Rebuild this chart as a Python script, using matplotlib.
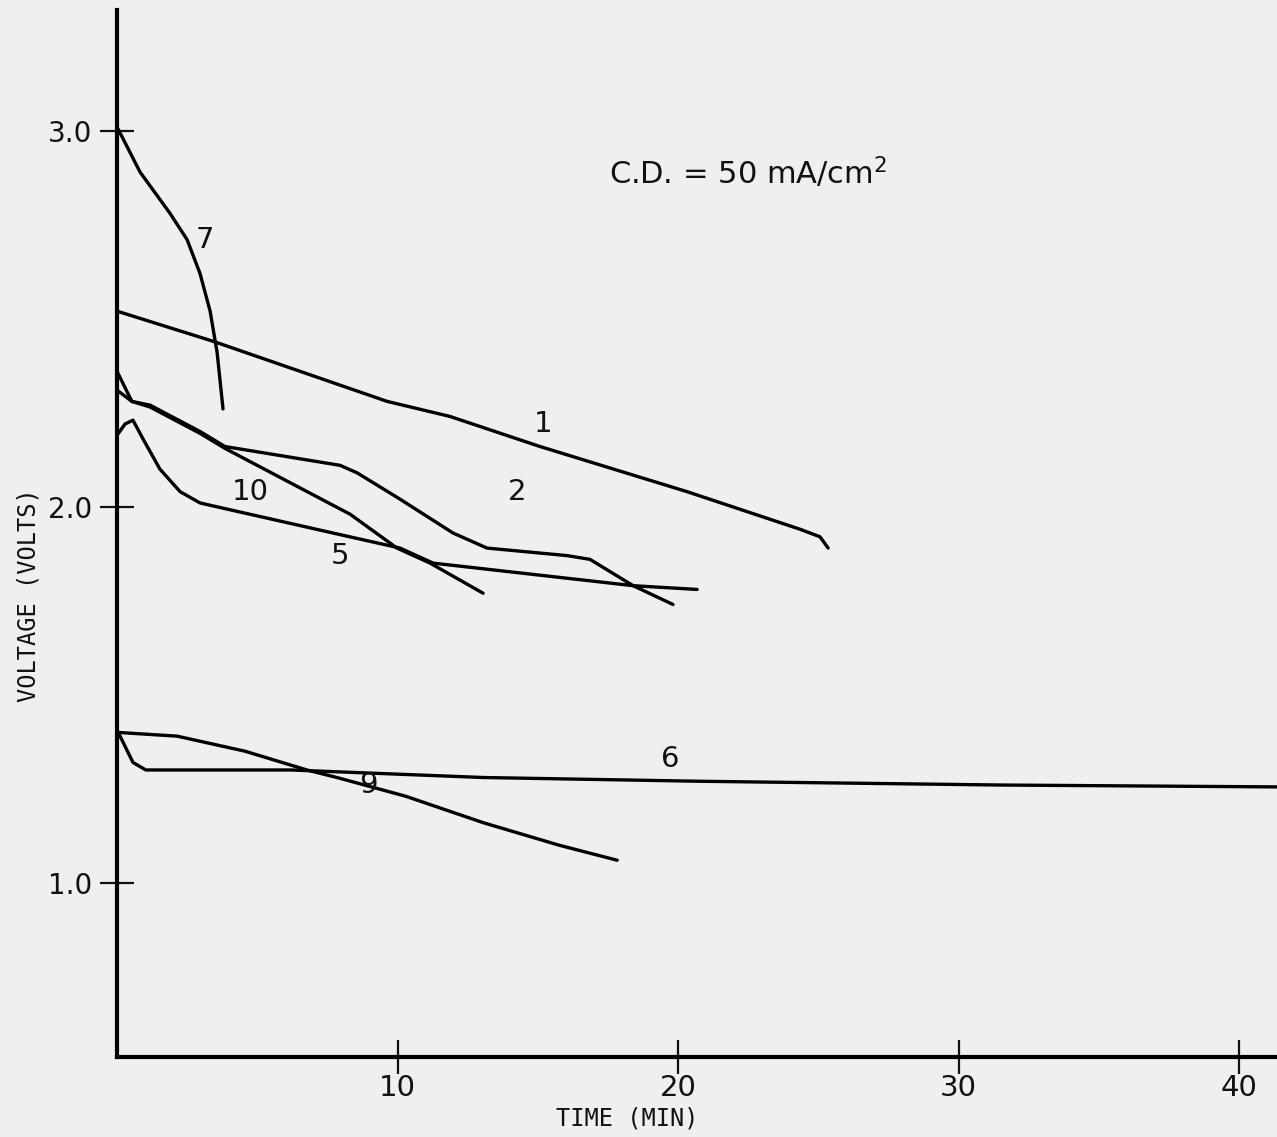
#!/usr/bin/env python3

import matplotlib
matplotlib.use("Agg")
import matplotlib.pyplot as plt

plt.rcParams["font.family"] = ["DejaVu Sans"]

# discharge curves at C.D. = 50 mA/cm2
t1 = [0, 3.42, 9.63, 11.87, 15.08, 20.32, 24.35, 25.06, 25.35]
v1 = [2.52, 2.44, 2.28, 2.24, 2.16, 2.04, 1.94, 1.92, 1.89]

t2 = [0, 0.53, 1.18, 2.96, 3.85, 7.95, 8.56, 10.09, 11.98, 13.19, 16.04, 16.86, 18.40, 19.82]
v2 = [2.36, 2.28, 2.27, 2.20, 2.16, 2.11, 2.09, 2.02, 1.93, 1.89, 1.87, 1.86, 1.79, 1.74]

t5 = [0, 0.29, 0.57, 0.93, 1.53, 2.25, 2.96, 4.14, 5.92, 7.70, 10.09, 11.27, 14.83, 18.40, 20.68]
v5 = [2.19, 2.22, 2.23, 2.18, 2.10, 2.04, 2.01, 1.99, 1.96, 1.93, 1.89, 1.85, 1.82, 1.79, 1.78]

t6 = [0, 0.11, 0.57, 1.03, 6.20, 13.05, 20.78, 31.5, 41.35]
v6 = [1.40, 1.39, 1.32, 1.30, 1.30, 1.28, 1.27, 1.26, 1.255]

t7 = [0, 0.82, 1.89, 2.50, 2.96, 3.32, 3.57, 3.78]
v7 = [3.01, 2.89, 2.78, 2.71, 2.62, 2.52, 2.41, 2.26]

t9 = [0, 2.14, 4.56, 6.77, 7.84, 10.30, 13.05, 15.76, 17.83]
v9 = [1.40, 1.39, 1.35, 1.30, 1.28, 1.23, 1.16, 1.10, 1.06]

t10 = [0, 0.53, 1.18, 2.96, 3.85, 6.27, 8.31, 9.98, 11.16, 13.05]
v10 = [2.31, 2.28, 2.265, 2.195, 2.155, 2.06, 1.98, 1.89, 1.85, 1.77]

curves = [(t1, v1), (t2, v2), (t5, v5), (t6, v6), (t7, v7), (t9, v9), (t10, v10)]

# curve numbers and where they sit
label_names = ["7", "1", "2", "10", "5", "6", "9"]
label_t = [3.14, 15.19, 14.26, 4.74, 7.95, 19.71, 8.95]
label_v = [2.71, 2.22, 2.04, 2.04, 1.87, 1.33, 1.26]

x_ticks = [10, 20, 30, 40]
y_ticks = [1.0, 2.0, 3.0]
y_ticklabels = ["1.0", "2.0", "3.0"]

ink = "#111111"


def main():
    fig = plt.figure(figsize=(12.77, 11.37), dpi=100, facecolor="#efefef")
    ax = fig.add_axes([0.0916, 0.0704, 0.9084, 0.9206])
    ax.set_facecolor("#efefef")

    for t, v in curves:
        ax.plot(t, v, color="black", linewidth=2.4,
                solid_capstyle="round", solid_joinstyle="round")

    for name, t, v in zip(label_names, label_t, label_v):
        ax.text(t, v, name, fontsize=21, ha="center", va="center", color=ink)

    ax.text(22.5, 2.888, "C.D. = 50 mA/cm$^{2}$", fontsize=22,
            ha="center", va="center", color=ink)

    ax.set_xlim(0, 41.35)
    ax.set_ylim(0.537, 3.32)

    for side in ["top", "right"]:
        ax.spines[side].set_visible(False)
    for side in ["left", "bottom"]:
        ax.spines[side].set_linewidth(3)

    ax.set_xticks(x_ticks)
    ax.set_xticklabels([str(x) for x in x_ticks])
    ax.set_yticks(y_ticks)
    ax.set_yticklabels(y_ticklabels)
    ax.tick_params(axis="both", direction="inout", length=24, width=1.6,
                   colors=ink)
    ax.tick_params(axis="x", pad=0, labelsize=21)
    ax.tick_params(axis="y", pad=6, labelsize=20)

    fig.text(0.022, 0.477, "VOLTAGE (VOLTS)", rotation=90, fontsize=17,
             ha="center", va="center", family="DejaVu Sans Mono", color=ink)
    fig.text(0.491, 0.016, "TIME (MIN)", fontsize=17, ha="center", va="center",
             family="DejaVu Sans Mono", color=ink)

    fig.savefig("out.png", dpi=100, facecolor=fig.get_facecolor())
    plt.close(fig)


if __name__ == "__main__":
    main()
